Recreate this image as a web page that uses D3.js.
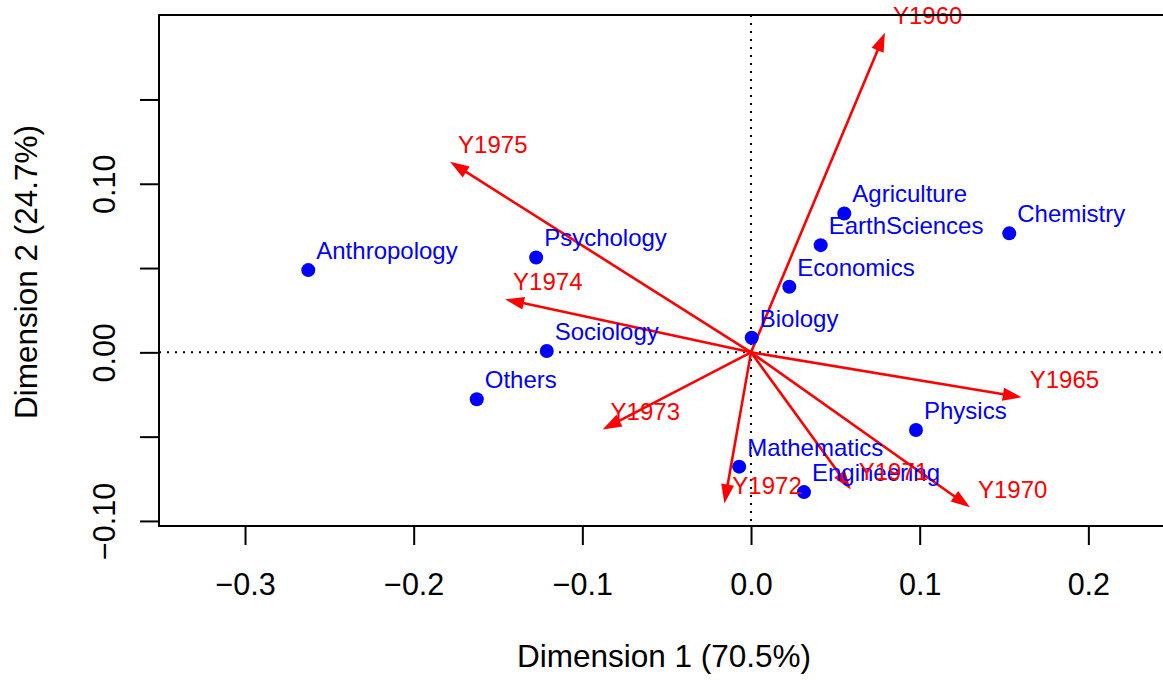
<!DOCTYPE html>
<html>
<head>
<meta charset="utf-8">
<script src="https://cdn.jsdelivr.net/npm/d3@7"></script>
<style>
  body { margin: 0; background: #fff; }
  svg text { font-family: "Liberation Sans", Arial, sans-serif; }
</style>
</head>
<body>
<div id="chart"></div>
<script>
// row points (fields)
const fieldNames = ["Anthropology", "Psychology", "Sociology", "Others", "Biology", "Economics",
    "EarthSciences", "Agriculture", "Chemistry", "Physics", "Mathematics", "Engineering"];
const fieldDim1 = [-0.2625, -0.1274, -0.1211, -0.1626, 0.0004, 0.0227, 0.0413, 0.0553, 0.1531, 0.0978, -0.0070, 0.0314];
const fieldDim2 = [0.0488, 0.0563, 0.0008, -0.0278, 0.0087, 0.0389, 0.0636, 0.0824, 0.0706, -0.0461, -0.0678, -0.0829];

// column arrows (years)
const yearNames = ["Y1960", "Y1965", "Y1970", "Y1971", "Y1972", "Y1973", "Y1974", "Y1975"];
const yearDim1 = [0.0794, 0.1605, 0.1298, 0.0591, -0.0158, -0.0880, -0.1458, -0.1784];
const yearDim2 = [0.1896, -0.0267, -0.0919, -0.0813, -0.0896, -0.0457, 0.0315, 0.1130];

const xTicks = [-0.3, -0.2, -0.1, 0.0, 0.1, 0.2];
const yTicks = [-0.10, -0.05, 0.00, 0.05, 0.10, 0.15];
// R drops the y labels that would collide, only these are shown
const yTickLabels = { "-0.1": "\u22120.10", "0": "0.00", "0.1": "0.10" };

const CHART_CONFIG = {
    width: 1163,
    height: 680,
    plot: { left: 159, top: 15, right: 1171, bottom: 526 },
    tickLen: 19,
    tickFontSize: 30.5,
    titleFontSize: 31.5,
    labelFontSize: 24,
    pointColor: "#0000ff",
    arrowColor: "#ff0000",
};

const cfg = CHART_CONFIG;
const fields = fieldNames.map((name, i) => ({ name, x: fieldDim1[i], y: fieldDim2[i] }));
const years = yearNames.map((name, i) => ({ name, x: yearDim1[i], y: yearDim2[i] }));

const svg = d3.select("#chart").append("svg")
    .attr("width", cfg.width)
    .attr("height", cfg.height);

const x = d3.scaleLinear().domain([-0.351, 0.249]).range([cfg.plot.left, cfg.plot.right]);
const y = d3.scaleLinear().domain([-0.103, 0.2001]).range([cfg.plot.bottom, cfg.plot.top]);

const fmtX = (d) => (d < 0 ? "\u2212" : "") + Math.abs(d).toFixed(1);

// x axis
svg.append("g")
    .attr("transform", `translate(0,${cfg.plot.bottom})`)
    .call(d3.axisBottom(x).tickValues(xTicks).tickSize(cfg.tickLen).tickPadding(28).tickFormat(fmtX))
    .call((g) => g.select(".domain").remove())
    .call((g) => g.selectAll("line").attr("stroke", "#000").attr("stroke-width", 2))
    .call((g) => g.selectAll("text").attr("font-size", cfg.tickFontSize).attr("fill", "#000")
        .attr("font-family", "Liberation Sans, Arial, sans-serif"));

// y axis, labels rotated like R's default
const yAxis = svg.append("g")
    .attr("transform", `translate(${cfg.plot.left},0)`)
    .call(d3.axisLeft(y).tickValues(yTicks).tickSize(cfg.tickLen).tickFormat(() => ""))
    .call((g) => g.select(".domain").remove())
    .call((g) => g.selectAll("line").attr("stroke", "#000").attr("stroke-width", 2));

yAxis.selectAll(".tick").append("text")
    .attr("transform", "translate(-44,0) rotate(-90)")
    .attr("text-anchor", "middle")
    .attr("font-size", cfg.tickFontSize)
    .attr("font-family", "Liberation Sans, Arial, sans-serif")
    .attr("fill", "#000")
    .text((d) => yTickLabels[String(+d.toFixed(2))] || "");

// reference lines through the origin
svg.append("line")
    .attr("x1", cfg.plot.left).attr("x2", cfg.plot.right)
    .attr("y1", y(0)).attr("y2", y(0))
    .attr("stroke", "#000").attr("stroke-width", 2).attr("stroke-dasharray", "2,6");
svg.append("line")
    .attr("x1", x(0)).attr("x2", x(0))
    .attr("y1", cfg.plot.top).attr("y2", cfg.plot.bottom)
    .attr("stroke", "#000").attr("stroke-width", 2).attr("stroke-dasharray", "2,6");

// arrows
const headLen = 19, headHalf = 6.5;
const arrows = svg.append("g").selectAll("g").data(years).join("g");

arrows.append("line")
    .attr("x1", x(0)).attr("y1", y(0))
    .attr("x2", (d) => {
        const dx = x(d.x) - x(0), dy = y(d.y) - y(0), len = Math.hypot(dx, dy);
        return x(d.x) - dx / len * (headLen - 2);
    })
    .attr("y2", (d) => {
        const dx = x(d.x) - x(0), dy = y(d.y) - y(0), len = Math.hypot(dx, dy);
        return y(d.y) - dy / len * (headLen - 2);
    })
    .attr("stroke", cfg.arrowColor).attr("stroke-width", 2.6);

arrows.append("path")
    .attr("d", (d) => {
        const tx = x(d.x), ty = y(d.y);
        const dx = tx - x(0), dy = ty - y(0), len = Math.hypot(dx, dy);
        const ux = dx / len, uy = dy / len;
        const bx = tx - ux * headLen, by = ty - uy * headLen;
        return `M${tx},${ty}L${bx - uy * headHalf},${by + ux * headHalf}L${bx + uy * headHalf},${by - ux * headHalf}Z`;
    })
    .attr("fill", cfg.arrowColor);

// points
svg.append("g").selectAll("circle").data(fields).join("circle")
    .attr("cx", (d) => x(d.x))
    .attr("cy", (d) => y(d.y))
    .attr("r", 7)
    .attr("fill", cfg.pointColor);

// labels
svg.append("g").selectAll("text").data(fields).join("text")
    .attr("x", (d) => x(d.x) + 8)
    .attr("y", (d) => y(d.y) - 11)
    .attr("font-size", cfg.labelFontSize)
    .attr("fill", cfg.pointColor)
    .text((d) => d.name);

svg.append("g").selectAll("text").data(years).join("text")
    .attr("x", (d) => x(d.x) + 8)
    .attr("y", (d) => y(d.y) - 9)
    .attr("font-size", cfg.labelFontSize)
    .attr("fill", cfg.arrowColor)
    .text((d) => d.name);

// plot box (right edge runs past the canvas, as in the original)
svg.append("rect")
    .attr("x", cfg.plot.left).attr("y", cfg.plot.top)
    .attr("width", cfg.plot.right - cfg.plot.left)
    .attr("height", cfg.plot.bottom - cfg.plot.top)
    .attr("fill", "none").attr("stroke", "#000").attr("stroke-width", 2);

// axis titles
svg.append("text")
    .attr("x", 664)
    .attr("y", 667)
    .attr("text-anchor", "middle")
    .attr("font-size", cfg.titleFontSize)
    .text("Dimension 1 (70.5%)");

svg.append("text")
    .attr("transform", `translate(36.5,272) rotate(-90)`)
    .attr("text-anchor", "middle")
    .attr("font-size", cfg.titleFontSize)
    .text("Dimension 2 (24.7%)");
</script>
</body>
</html>
